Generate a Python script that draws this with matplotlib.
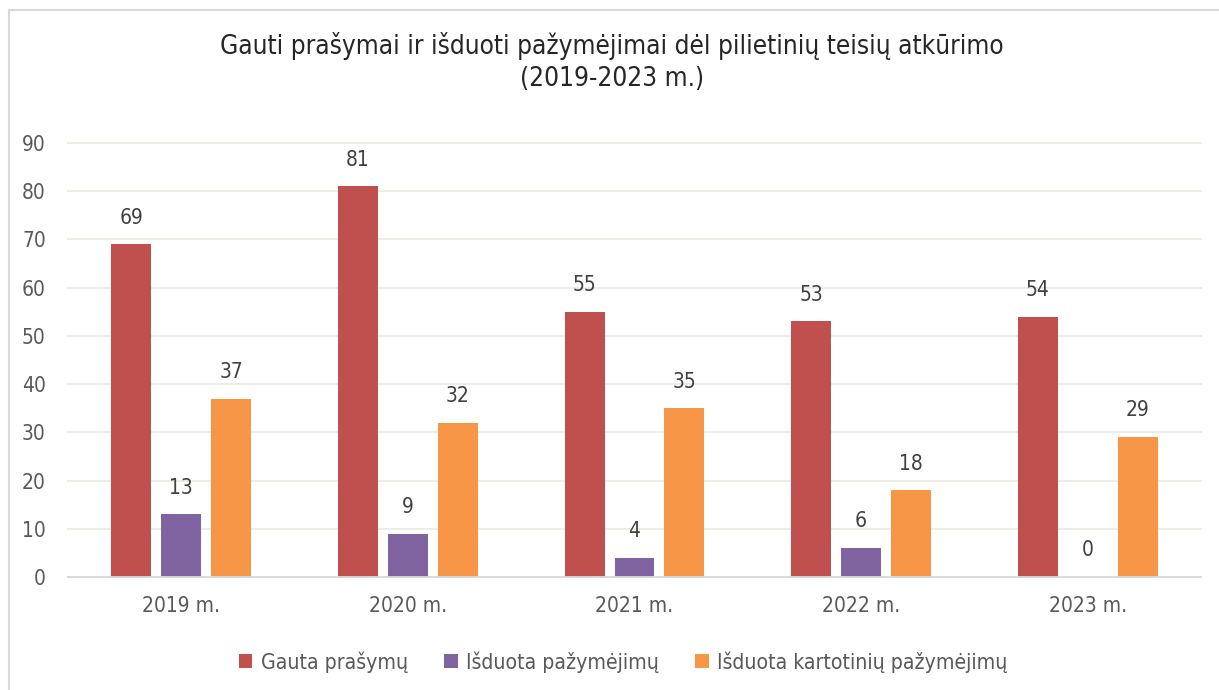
import matplotlib
matplotlib.use("Agg")
import matplotlib.pyplot as plt
from matplotlib.patches import Rectangle
import numpy as np

plt.rcParams['font.family'] = ['DejaVu Sans']
plt.rcParams['font.stretch'] = 'condensed'

years = ["2019 m.", "2020 m.", "2021 m.", "2022 m.", "2023 m."]
series_names = ["Gauta prašymų", "Išduota pažymėjimų", "Išduota kartotinių pažymėjimų"]
gauta = [69, 81, 55, 53, 54]
isduota = [13, 9, 4, 6, 0]
kartotiniu = [37, 32, 35, 18, 29]
colors = ["#C0504D", "#8064A2", "#F79646"]
title = "Gauti prašymai ir išduoti pažymėjimai dėl pilietinių teisių atkūrimo\n(2019-2023 m.)"

W, H = 1219, 690
fig = plt.figure(figsize=(W/100, H/100), dpi=100)
fig.patches.append(Rectangle((9/W, -0.1), 1.2, (H-10)/H + 0.1, transform=fig.transFigure,
                             fill=False, edgecolor="#D9D9D9", linewidth=1.5))

ax = fig.add_axes([68/W, (H-577)/H, 1133/W, (577-143)/H])
x = np.arange(len(years))
width = 0.1765
step = 0.22
text_color = "#595959"
for i, (vals, c, name) in enumerate(zip([gauta, isduota, kartotiniu], colors, series_names)):
    pos = x + (i-1)*step
    ax.bar(pos, vals, width=width, color=c, label=name, zorder=3)
    for p, v in zip(pos, vals):
        ax.annotate(str(v), (p, v), xytext=(0, 12), textcoords="offset points",
                    ha="center", va="bottom", fontsize=15, color="#404040")

ax.set_xlim(-0.5, len(years)-0.5)
ax.set_ylim(0, 90)
ax.set_yticks(range(0, 91, 10))
ax.set_xticks(x)
ax.set_xticklabels(years)
ax.tick_params(axis='both', length=0, labelsize=15, labelcolor=text_color)
ax.tick_params(axis='y', pad=16)
ax.tick_params(axis='x', pad=14)
ax.grid(axis='y', color="#EDEBE0", linewidth=1.3, zorder=0)
for gl in ax.get_ygridlines():
    gl.set_clip_on(False)
for s in ["top", "right", "left"]:
    ax.spines[s].set_visible(False)
ax.spines["bottom"].set_color("#D9D9D9")
ax.spines["bottom"].set_linewidth(1.3)
ax.spines["bottom"].set_zorder(4)

fig.text(612/W, 1 - 62/H, title, ha="center", va="center", fontsize=18.8,
         color="#262626", linespacing=1.3)

handles, labels = ax.get_legend_handles_labels()
fig.legend(handles, labels, loc="center", bbox_to_anchor=(623/W, 1 - 662/H), ncol=3,
           frameon=False, fontsize=15.2, handlelength=0.65, handleheight=0.65,
           handletextpad=0.4, columnspacing=1.7, labelcolor=text_color)

fig.savefig("out.png", dpi=100)
